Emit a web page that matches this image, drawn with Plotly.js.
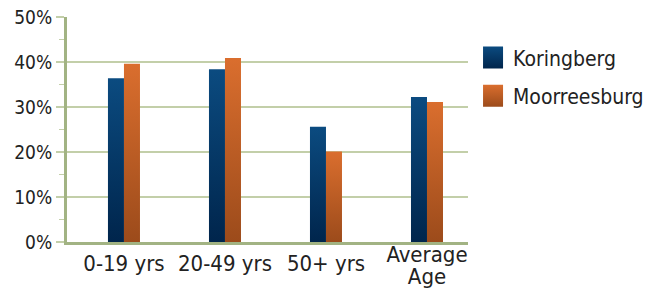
<!DOCTYPE html>
<html>
<head>
<meta charset="utf-8">
<script src="https://cdn.plot.ly/plotly-3.0.1.min.js"></script>
<style>
html,body{margin:0;padding:0;background:#fff;}
#chart{width:648px;height:291px;}
</style>
</head>
<body>
<div id="chart"></div>
<script>
const categories = ['0-19 yrs', '20-49 yrs', '50+ yrs', 'Average<br>Age'];
const koringberg = [0.364, 0.384, 0.256, 0.322];
const moorreesburg = [0.396, 0.409, 0.201, 0.311];
const seriesNames = ['Koringberg', 'Moorreesburg'];
const yTickVals = [0, 0.1, 0.2, 0.3, 0.4, 0.5];
const yTickText = ['0%', '10%', '20%', '30%', '40%', '50%'];

const FONT = '"DejaVu Sans Condensed", "Liberation Sans Narrow", "Arial Narrow", sans-serif';
const GRID = '#c3cfa9';
const AXIS = '#a2b383';

const traces = [
  {type: 'bar', x: categories, y: koringberg, name: seriesNames[0],
   marker: {color: '#063a68'}, legendgroup: 'a', hoverinfo: 'none'},
  {type: 'bar', x: categories, y: moorreesburg, name: seriesNames[1],
   marker: {color: '#bf5f27'}, legendgroup: 'b', hoverinfo: 'none'}
];

const layout = {
  width: 648, height: 291,
  margin: {l: 67, r: 180, t: 17, b: 49, pad: 0, autoexpand: false},
  paper_bgcolor: '#fff', plot_bgcolor: '#fff',
  font: {family: FONT, color: '#222', size: 20},
  barmode: 'group', bargap: 0.683, bargroupgap: 0,
  showlegend: true,
  legend: {xref: 'container', yref: 'container', x: 0.73, xanchor: 'left', y: 0.872, yanchor: 'top',
           font: {size: 21, family: FONT, color: '#222'},
           traceorder: 'grouped', tracegroupgap: 8, itemclick: false},
  xaxis: {type: 'category', range: [-0.564, 3.406],
          showline: true, linecolor: AXIS, linewidth: 3,
          ticks: '', showgrid: false, zeroline: false, tickangle: 0,
          tickfont: {size: 22, family: FONT, color: '#222'}, fixedrange: true},
  yaxis: {range: [0, 0.5], tickvals: yTickVals, ticktext: yTickText,
          showgrid: true, gridcolor: GRID, gridwidth: 1.5,
          showline: true, linecolor: AXIS, linewidth: 3,
          ticks: 'outside', ticklen: 8, tickwidth: 1.5, tickcolor: GRID,
          minor: {dtick: 0.05, ticks: 'outside', ticklen: 5, tickwidth: 1.5, tickcolor: GRID, showgrid: false},
          zeroline: false,
          tickfont: {size: 19, family: FONT, color: '#222'}, fixedrange: true}
};

Plotly.newPlot('chart', traces, layout, {staticPlot: true, displayModeBar: false}).then(function(gd){
  const svgNS = 'http://www.w3.org/2000/svg';
  const svg = gd.querySelector('.main-svg');
  let defs = svg.querySelector('defs');
  if (!defs) { defs = document.createElementNS(svgNS, 'defs'); svg.insertBefore(defs, svg.firstChild); }
  function grad(id, top, bottom) {
    const g = document.createElementNS(svgNS, 'linearGradient');
    g.setAttribute('id', id);
    g.setAttribute('x1', '0'); g.setAttribute('y1', '0');
    g.setAttribute('x2', '0'); g.setAttribute('y2', '1');
    [[0, top], [1, bottom]].forEach(function(s){
      const st = document.createElementNS(svgNS, 'stop');
      st.setAttribute('offset', s[0]);
      st.setAttribute('stop-color', s[1]);
      g.appendChild(st);
    });
    defs.appendChild(g);
  }
  grad('gradK', '#0b4b80', '#00254c');
  grad('gradM', '#da6e2e', '#9c4b1b');
  const ids = ['gradK', 'gradM'];
  gd.querySelectorAll('.barlayer .trace').forEach(function(t, i){
    t.querySelectorAll('path').forEach(function(p){ p.style.fill = 'url(#' + ids[i] + ')'; });
  });
  gd.querySelectorAll('.legend .traces').forEach(function(t, i){
    t.querySelectorAll('.legendpoints path').forEach(function(p){
      p.setAttribute('d', 'M10,11H-10V-11H10Z');
      p.style.fill = 'url(#' + ids[i] + ')';
      p.style.stroke = 'none';
    });
  });
  // tighter two-line category label, raised like the reference
  gd.querySelectorAll('.xtick text').forEach(function(t){
    const lines = t.querySelectorAll('tspan.line');
    if (lines.length === 2) {
      lines[0].setAttribute('dy', '-0.45em');
      lines[1].setAttribute('dy', '0.55em');
    }
  });
});
</script>
</body>
</html>
